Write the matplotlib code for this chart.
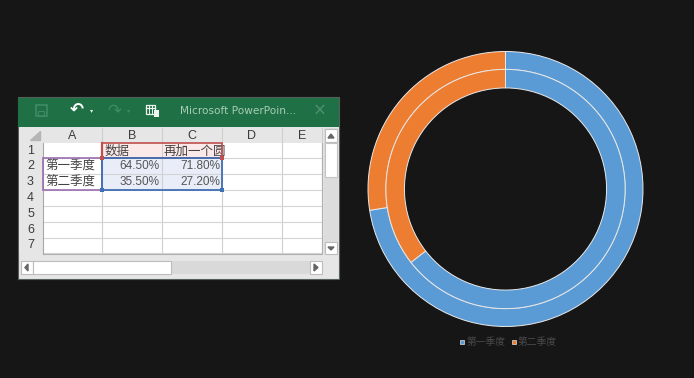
from matplotlib import pyplot as plt
from matplotlib.patches import Rectangle
import numpy as np

plt.rcParams['font.family'] = ['Noto Sans CJK SC', 'DejaVu Sans']

quarters = ['第一季度', '第二季度']
series_names = ['数据', '再加一个圆']
inner_values = [64.5, 35.5]
outer_values = [71.8, 27.2]
col_labels = ['A', 'B', 'C', 'D', 'E']
row_labels = ['1', '2', '3', '4', '5', '6', '7']

BG = '#161616'
BLUE = '#5b9bd5'
ORANGE = '#ed7d31'

fig = plt.figure(figsize=(6.94, 3.78), dpi=100, facecolor=BG)

# whole figure in pixels, for the spreadsheet window
ax = fig.add_axes([0, 0, 1, 1])
ax.set_xlim(0, 694)
ax.set_ylim(378, 0)
ax.axis('off')


def box(x0, y0, x1, y1, fc='none', ec='none', lw=0.8, z=1):
    ax.add_patch(Rectangle((x0, y0), x1 - x0, y1 - y0, facecolor=fc, edgecolor=ec, linewidth=lw, zorder=z))


# window and title bar
box(18, 97, 339, 279, fc='#e6e6e6', ec='#55605a', lw=0.8)
box(18.5, 97.5, 339, 127, fc='#1f7044')
ax.text(180, 111, 'Microsoft PowerPoin...', color='#a8cdb6', fontsize=7.6, family='DejaVu Sans', va='center')
ax.text(320, 111, '×', color='#4f9270', fontsize=12, family='DejaVu Sans', ha='center', va='center')

# title bar icons
box(36, 105, 47, 116, ec='#3f8a63', lw=1.2, z=2)
box(38.5, 111, 44.5, 116, ec='#3f8a63', lw=0.8, z=2)
ax.text(77, 110, '↶', color='white', fontsize=12, family='DejaVu Sans', ha='center', va='center', fontweight='bold')
ax.text(92, 110.5, '▾', color='#dfeee6', fontsize=4.5, family='DejaVu Sans', ha='center', va='center')
ax.text(114, 110, '↷', color='#3f8a63', fontsize=12, family='DejaVu Sans', ha='center', va='center')
ax.text(129, 110.5, '▾', color='#3f8a63', fontsize=4.5, family='DejaVu Sans', ha='center', va='center')
box(146, 105, 155, 114, ec='#eef5f0', lw=0.9, z=2)
ax.plot([146, 155], [108, 108], color='#eef5f0', lw=0.9, zorder=2)
ax.plot([149, 149], [105, 114], color='#eef5f0', lw=0.7, zorder=2)
ax.plot([152, 152], [105, 114], color='#eef5f0', lw=0.7, zorder=2)
box(154, 110, 159, 117, fc='#eef5f0', z=3)

# grid geometry
col_x = [43, 102, 162, 222, 282, 322]
row_y = [143, 158, 174, 190, 206, 222, 238, 253]

box(19, 128, 322, 143, fc='#e6e6e6')
box(19, 143, 43, 253, fc='#e6e6e6')
box(43, 143, 322, 253, fc='white')

# selected ranges
box(102, 143, 222, 158, fc='#fae9e8', z=1.5)
box(102, 158, 222, 190, fc='#e8edf8', z=1.5)

for x in col_x[1:]:
    ax.plot([x, x], [128, 253], color='#cfcfcf', lw=0.8, zorder=1.6)
for y in row_y[1:]:
    ax.plot([43, 322], [y, y], color='#d4d4d4', lw=0.8, zorder=1.6)
ax.plot([43, 43], [143, 254], color='#a8a8a8', lw=0.8, zorder=1.7)
ax.plot([43, 322, 322], [254, 254, 143], color='#b0b0b0', lw=0.8, zorder=1.7)
ax.fill([30, 40, 40], [140, 140, 131], color='#b5b5b5', zorder=2)

for i, label in enumerate(col_labels):
    ax.text((col_x[i] + col_x[i + 1]) / 2, 136, label, color='#3c3c3c', fontsize=9, family='Liberation Sans', ha='center', va='center')
for i, label in enumerate(row_labels):
    ax.text(30.5, (row_y[i] + row_y[i + 1]) / 2, label, color='#3c3c3c', fontsize=9, family='Liberation Sans', ha='center', va='center')

# cell contents
ax.text(105, 151, series_names[0], color='#444444', fontsize=9, va='center', zorder=3)
head = ax.text(164, 151, series_names[1], color='#444444', fontsize=9, va='center', zorder=3)
head.set_clip_path(Rectangle((162, 143), 63, 15, transform=ax.transData))
head.set_clip_on(True)
for i, name in enumerate(quarters):
    y = (row_y[i + 1] + row_y[i + 2]) / 2
    ax.text(45, y, name, color='#444444', fontsize=9, va='center', zorder=3)
    ax.text(160, y, f'{inner_values[i]:.2f}%', color='#555555', fontsize=8.5, family='Liberation Sans', ha='right', va='center', zorder=3)
    ax.text(220.5, y, f'{outer_values[i]:.2f}%', color='#555555', fontsize=8.5, family='Liberation Sans', ha='right', va='center', zorder=3)

# range outlines
box(102, 158, 222, 190, ec='#3f6fb5', lw=1.3, z=4)
box(43, 158, 102, 190, ec='#9a6fb0', lw=1.2, z=3.5)
box(102, 143, 222, 158, ec='#c0504d', lw=1.2, z=3.8)
ax.plot([102, 102], [143, 158], color='#c0504d', lw=1.6, zorder=4.5)
for hx, hy, c in [(102, 158, '#c0504d'), (222, 158, '#c0504d'), (102, 190, '#3f6fb5'), (222, 190, '#3f6fb5')]:
    box(hx - 2, hy - 2, hx + 2, hy + 2, fc=c, z=5)

# scrollbars
box(324, 128, 338, 254, fc='#dcdcdc', z=1)
box(325, 129, 337, 142, fc='white', ec='#bdbdbd', z=2)
box(325, 143, 337, 177, fc='white', ec='#c4c4c4', z=2)
box(325, 242, 337, 254, fc='white', ec='#bdbdbd', z=2)
ax.fill([328, 334, 331], [138, 138, 134], color='#666666', zorder=3)
ax.fill([328, 334, 331], [247, 247, 250], color='#666666', zorder=3)
box(21, 261, 322, 274, fc='#d9d9d9', z=1)
box(21, 261, 33, 274, fc='white', ec='#bdbdbd', z=2)
box(33, 261, 171, 274, fc='white', ec='#bdbdbd', z=2)
box(310, 261, 322, 274, fc='white', ec='#bdbdbd', z=2)
ax.fill([28, 28, 25], [264, 271, 267.5], color='#666666', zorder=3)
ax.fill([314, 314, 318], [264, 271, 267.5], color='#666666', zorder=3)

# doughnut, two rings on its own axes
pie_ax = fig.add_axes([368 / 694, 1 - 326.5 / 378, 275 / 694, 275 / 378])
pie_ax.axis('off')
edge = dict(edgecolor='#e8e8e8', linewidth=0.7)
pie_ax.pie(outer_values, radius=1.0, colors=[BLUE, ORANGE], startangle=90, counterclock=False,
           wedgeprops=dict(width=0.13, **edge))
pie_ax.pie(inner_values, radius=0.87, colors=[BLUE, ORANGE], startangle=90, counterclock=False,
           wedgeprops=dict(width=0.135, **edge))
pie_ax.set_aspect('equal')
pie_ax.set_xlim(-1.0, 1.0)
pie_ax.set_ylim(-1.0, 1.0)

# legend
for name, c, mx, tx in zip(quarters, [BLUE, ORANGE], [462, 514], [467, 518]):
    box(mx - 2, 340, mx + 2, 344, fc=c, ec='#e0e0e0', lw=0.5)
    ax.text(tx, 342, name, color='#4a4a4a', fontsize=7, va='center')

fig.savefig('out.png', dpi=100, facecolor=BG)
